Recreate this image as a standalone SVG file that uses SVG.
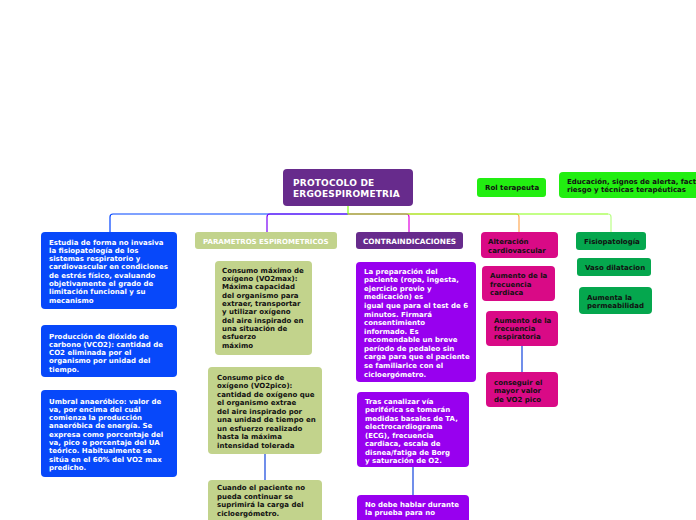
<svg xmlns="http://www.w3.org/2000/svg" width="696" height="520" viewBox="0 0 696 520">
<style>
text{font-family:"DejaVu Sans","Verdana",sans-serif;font-weight:bold;font-size:7px}
.w{fill:#ffffff}
.k{fill:#111111}
.c{fill:none;stroke-width:1.2;stroke-linejoin:round}
.blue{fill:#0748fa}
.purp{fill:#672b8c}
.lime{fill:#22ee11}
.olive{fill:#c2d38c}
.viol{fill:#9800ef}
.mag{fill:#d90a86}
.grn{fill:#05a74e}
</style>
<rect width="696" height="520" fill="#ffffff"/>
<g id="connectors">
<path class="c" stroke="#0044ff" d="M348,214 H113 Q110,214 110,217 V232"/>
<path class="c" stroke="#7a00f5" d="M348,214 H270 Q267,214 267,217 V232"/>
<path class="c" stroke="#ffaa55" d="M348,214 H516 Q519,214 519,217 V232"/>
<path class="c" stroke="#e000e0" d="M348,214 H406 Q409,214 409,217 V232"/>
<path class="c" stroke="#88ff11" d="M348,206 V214 H608"/>
<path class="c" stroke="#bbff88" d="M608,214 Q611,214 611,217 V232"/>
<path class="c" stroke="#1144dd" d="M265,454 V480"/>
<path class="c" stroke="#1144dd" d="M413,467 V495"/>
<path class="c" stroke="#1144dd" d="M522,346 V372"/>
</g>
<g id="title">
<rect class="purp" x="283" y="169" width="130" height="37" rx="4"/>
<text class="w" style="font-size:9px;letter-spacing:0.2px"><tspan x="293" y="186">PROTOCOLO DE</tspan><tspan x="293" y="197">ERGOESPIROMETRIA</tspan></text>
</g>
<g id="rol">
<rect class="lime" x="477" y="178" width="69" height="19" rx="3"/>
<text class="k" x="485" y="190.2">Rol terapeuta</text>
</g>
<g id="educacion">
<rect class="lime" x="559" y="172" width="145" height="26" rx="4"/>
<text class="k"><tspan x="567" y="183.5">Educación, signos de alerta, factores de</tspan><tspan x="567" y="191.8">riesgo y técnicas terapéuticas</tspan></text>
</g>
<g id="estudia">
<rect class="blue" x="41" y="232" width="136" height="77" rx="4"/>
<text class="w"><tspan x="49" y="244.5">Estudia de forma no invasiva</tspan><tspan x="49" dy="8.3">la fisiopatología de los</tspan><tspan x="49" dy="8.3">sistemas respiratorio y</tspan><tspan x="49" dy="8.3">cardiovascular en condiciones</tspan><tspan x="49" dy="8.3">de estrés físico, evaluando</tspan><tspan x="49" dy="8.3">objetivamente el grado de</tspan><tspan x="49" dy="8.3">limitación funcional y su</tspan><tspan x="49" dy="8.3">mecanismo</tspan></text>
</g>
<g id="vco2">
<rect class="blue" x="41" y="325" width="136" height="52" rx="4"/>
<text class="w"><tspan x="49" y="338.5">Producción de dióxido de</tspan><tspan x="49" dy="8.25">carbono (VCO2): cantidad de</tspan><tspan x="49" dy="8.25">CO2 eliminada por el</tspan><tspan x="49" dy="8.25">organismo por unidad del</tspan><tspan x="49" dy="8.25">tiempo.</tspan></text>
</g>
<g id="umbral">
<rect class="blue" x="41" y="390" width="136" height="87" rx="4"/>
<text class="w"><tspan x="49" y="403.5">Umbral anaeróbico: valor de</tspan><tspan x="49" dy="8.33">va, por encima del cuál</tspan><tspan x="49" dy="8.33">comienza la producción</tspan><tspan x="49" dy="8.33">anaeróbica de energía. Se</tspan><tspan x="49" dy="8.33">expresa como porcentaje del</tspan><tspan x="49" dy="8.33">va, pico o porcentaje del UA</tspan><tspan x="49" dy="8.33">teórico. Habitualmente se</tspan><tspan x="49" dy="8.33">sitúa en el 60% del VO2 max</tspan><tspan x="49" dy="8.33">predicho.</tspan></text>
</g>
<g id="parametros">
<rect class="olive" x="195" y="232" width="142" height="17" rx="3"/>
<text class="w" x="203" y="243.5">PARAMETROS ESPIROMETRICOS</text>
</g>
<g id="vo2max">
<rect class="olive" x="215" y="261" width="97" height="94" rx="4"/>
<text class="k"><tspan x="222" y="272.8">Consumo máximo de</tspan><tspan x="222" dy="8.33">oxígeno (VO2max):</tspan><tspan x="222" dy="8.33">Máxima capacidad</tspan><tspan x="222" dy="8.33">del organismo para</tspan><tspan x="222" dy="8.33">extraer, transportar</tspan><tspan x="222" dy="8.33">y utilizar oxígeno</tspan><tspan x="222" dy="8.33">del aire inspirado en</tspan><tspan x="222" dy="8.33">una situación de</tspan><tspan x="222" dy="8.33">esfuerzo</tspan><tspan x="222" dy="8.33">máximo</tspan></text>
</g>
<g id="vo2pico">
<rect class="olive" x="208" y="367" width="114" height="87" rx="4"/>
<text class="k"><tspan x="217" y="379.8">Consumo pico de</tspan><tspan x="217" dy="8.5">oxígeno (VO2pico):</tspan><tspan x="217" dy="8.5">cantidad de oxígeno que</tspan><tspan x="217" dy="8.5">el organismo extrae</tspan><tspan x="217" dy="8.5">del aire inspirado por</tspan><tspan x="217" dy="8.5">una unidad de tiempo en</tspan><tspan x="217" dy="8.5">un esfuerzo realizado</tspan><tspan x="217" dy="8.5">hasta la máxima</tspan><tspan x="217" dy="8.5">intensidad tolerada</tspan></text>
</g>
<g id="cuando">
<rect class="olive" x="208" y="480" width="114" height="60" rx="4"/>
<text class="k"><tspan x="217" y="489.8">Cuando el paciente no</tspan><tspan x="217" dy="8.7">pueda continuar se</tspan><tspan x="217" dy="8.7">suprimirá la carga del</tspan><tspan x="217" dy="8.7">cicloergómetro.</tspan></text>
</g>
<g id="contraindicaciones">
<rect class="purp" x="356" y="232" width="107" height="17" rx="3"/>
<text class="w" x="363" y="243.5" style="font-size:7.3px">CONTRAINDICACIONES</text>
</g>
<g id="preparacion">
<rect class="viol" x="356" y="262" width="120" height="120" rx="4"/>
<text class="w"><tspan x="364" y="273.8">La preparación del</tspan><tspan x="364" dy="8.56">paciente (ropa, ingesta,</tspan><tspan x="364" dy="8.56">ejercicio previo y</tspan><tspan x="364" dy="8.56">medicación) es</tspan><tspan x="364" dy="8.56">igual que para el test de 6</tspan><tspan x="364" dy="8.56">minutos. Firmará</tspan><tspan x="364" dy="8.56">consentimiento</tspan><tspan x="364" dy="8.56">informado. Es</tspan><tspan x="364" dy="8.56">recomendable un breve</tspan><tspan x="364" dy="8.56">período de pedaleo sin</tspan><tspan x="364" dy="8.56">carga para que el paciente</tspan><tspan x="364" dy="8.56">se familiarice con el</tspan><tspan x="364" dy="8.56">cicloergómetro.</tspan></text>
</g>
<g id="tras">
<rect class="viol" x="357" y="392" width="112" height="75" rx="4"/>
<text class="w"><tspan x="365" y="403.5">Tras canalizar vía</tspan><tspan x="365" dy="8.57">periférica se tomarán</tspan><tspan x="365" dy="8.57">medidas basales de TA,</tspan><tspan x="365" dy="8.57">electrocardiograma</tspan><tspan x="365" dy="8.57">(ECG), frecuencia</tspan><tspan x="365" dy="8.57">cardiaca, escala de</tspan><tspan x="365" dy="8.57">disnea/fatiga de Borg</tspan><tspan x="365" dy="8.57">y saturación de O2.</tspan></text>
</g>
<g id="nodebe">
<rect class="viol" x="357" y="495" width="112" height="45" rx="4"/>
<text class="w"><tspan x="365" y="506.5">No debe hablar durante</tspan><tspan x="365" dy="8.3">la prueba para no</tspan></text>
</g>
<g id="alteracion">
<rect class="mag" x="481" y="232" width="77" height="26" rx="4"/>
<text class="k"><tspan x="488" y="243.8">Alteración</tspan><tspan x="488" dy="8.7">cardiovascular</tspan></text>
</g>
<g id="fc">
<rect class="mag" x="482" y="266" width="73" height="35" rx="4"/>
<text class="k"><tspan x="490" y="278.2">Aumento de la</tspan><tspan x="490" dy="8.3">frecuencia</tspan><tspan x="490" dy="8.3">cardiaca</tspan></text>
</g>
<g id="fr">
<rect class="mag" x="486" y="311" width="72" height="35" rx="4"/>
<text class="k"><tspan x="494" y="322.8">Aumento de la</tspan><tspan x="494" dy="8.3">frecuencia</tspan><tspan x="494" dy="8.3">respiratoria</tspan></text>
</g>
<g id="conseguir">
<rect class="mag" x="486" y="372" width="72" height="35" rx="4"/>
<text class="k"><tspan x="494" y="384.5">conseguir el</tspan><tspan x="494" dy="8.5">mayor valor</tspan><tspan x="494" dy="8.5">de VO2 pico</tspan></text>
</g>
<g id="fisiopatologia">
<rect class="grn" x="576" y="232" width="70" height="18" rx="3"/>
<text class="k" x="584" y="243.8">Fisiopatología</text>
</g>
<g id="vaso">
<rect class="grn" x="577" y="258" width="74" height="18" rx="3"/>
<text class="k" x="585" y="269.8">Vaso dilatacion</text>
</g>
<g id="permeabilidad">
<rect class="grn" x="579" y="287" width="73" height="27" rx="4"/>
<text class="k"><tspan x="587" y="299.5">Aumenta la</tspan><tspan x="587" dy="8.7">permeabilidad</tspan></text>
</g>
</svg>
